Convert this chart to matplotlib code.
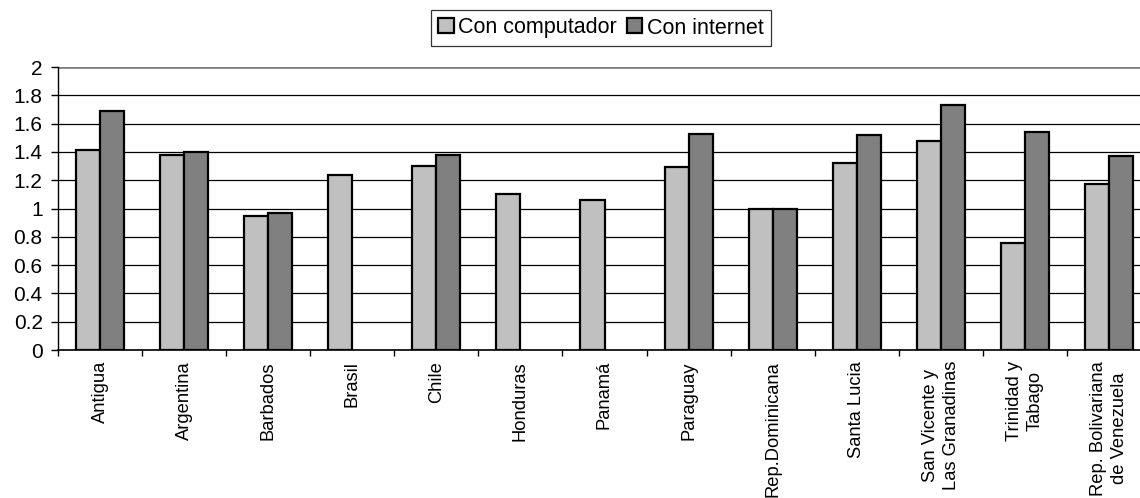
import matplotlib
matplotlib.use("Agg")
import matplotlib.pyplot as plt
import numpy as np

plt.rcParams["font.family"] = ["Liberation Sans", "DejaVu Sans"]

paises = ["Antigua", "Argentina", "Barbados", "Brasil", "Chile", "Honduras",
          "Panamá", "Paraguay", "Rep.Dominicana", "Santa Lucia",
          "San Vicente y\nLas Granadinas", "Trinidad y\nTabago",
          "Rep. Bolivariana\nde Venezuela"]
con_computador = [1.41, 1.38, 0.95, 1.24, 1.30, 1.10, 1.06, 1.29, 1.00, 1.32, 1.48, 0.755, 1.17]
con_internet = [1.69, 1.40, 0.97, np.nan, 1.38, np.nan, np.nan, 1.53, 1.00, 1.52, 1.73, 1.54, 1.37]

color_comp = "#C0C0C0"
color_int = "#808080"

fig = plt.figure(figsize=(11.4, 4.98), dpi=100)
ax = fig.add_axes([58 / 1140, 1 - 350 / 498, 1093 / 1140, 283 / 498])

x = np.arange(len(paises))
w = 1 / 3.5
ax.bar(x - w / 2, con_computador, w, color=color_comp, edgecolor="black", linewidth=1.6,
       label="Con computador", zorder=3)
ax.bar(x + w / 2, con_internet, w, color=color_int, edgecolor="black", linewidth=1.6,
       label="Con internet", zorder=3)

ax.set_xlim(-0.5, len(paises) - 0.5)
ax.set_ylim(0, 2)
ax.set_yticks(np.arange(0, 2.01, 0.2))
ax.set_yticklabels(["0", "0.2", "0.4", "0.6", "0.8", "1", "1.2", "1.4", "1.6", "1.8", "2"])
ax.yaxis.grid(True, color="black", linewidth=0.9, zorder=0)
gl = ax.get_ygridlines()
gl[-1].set_color("#808080")
gl[-1].set_linewidth(2)
ax.set_axisbelow(True)

ax.set_xticks(x)
ax.set_xticklabels(paises, rotation=90, va="top", ha="center", multialignment="center",
                   linespacing=1.3)
ax.set_xticks(np.arange(-0.5, len(paises)), minor=True)
ax.tick_params(axis="x", which="major", length=0, pad=8, labelsize=13.2)
ax.tick_params(axis="x", which="minor", length=4, width=1, direction="out")
ax.tick_params(axis="y", length=5, width=1, direction="out", pad=6, labelsize=15)

for s in ["top", "right"]:
    ax.spines[s].set_visible(False)
ax.spines["left"].set_linewidth(1)
ax.spines["bottom"].set_linewidth(1.2)

leg = fig.legend(loc="center", bbox_to_anchor=(601 / 1140, 1 - 28 / 498), ncol=2,
                 fontsize=15.5, frameon=True, fancybox=False, edgecolor="black",
                 handlelength=0.7, handleheight=0.7, handletextpad=0.2,
                 columnspacing=0.5, borderpad=0.35, borderaxespad=0)
leg.get_frame().set_linewidth(0.9)
for p in leg.get_patches():
    p.set_linewidth(1.6)

fig.savefig("out.png", dpi=100)
